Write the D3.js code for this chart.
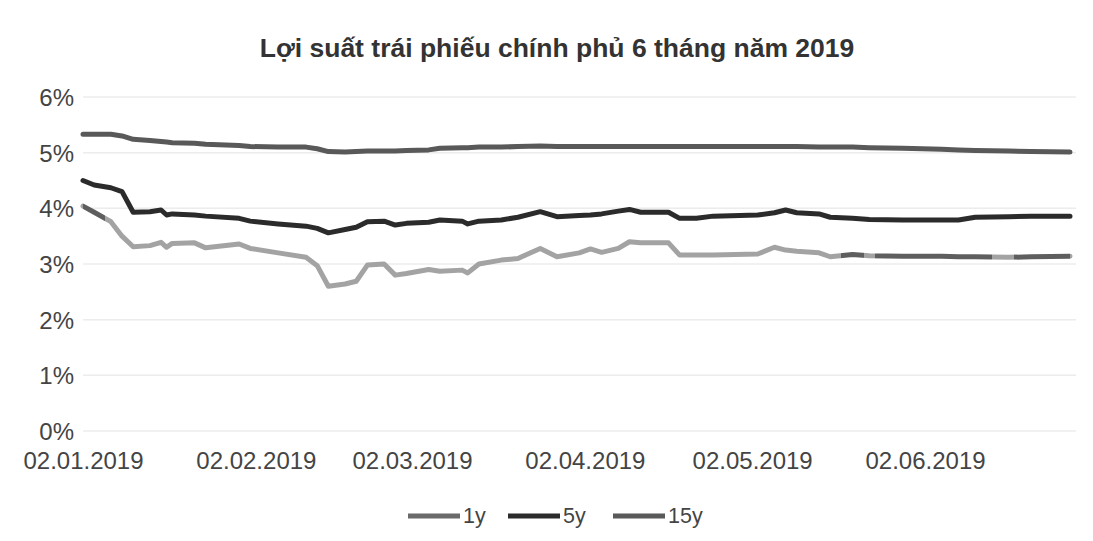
<!DOCTYPE html>
<html>
<head>
<meta charset="utf-8">
<script src="https://cdn.jsdelivr.net/npm/d3@7/dist/d3.min.js"></script>
<style>
  html, body { margin: 0; padding: 0; background: #ffffff; }
  svg { display: block; font-family: "Liberation Sans", Arial, sans-serif; }
</style>
</head>
<body>
<svg id="chart" width="1093" height="541"></svg>
<script>
// ---- data ----
const title = "Lợi suất trái phiếu chính phủ 6 tháng năm 2019";
const dates = ["2019-01-02","2019-01-04","2019-01-07","2019-01-09","2019-01-11","2019-01-14","2019-01-16","2019-01-17","2019-01-18","2019-01-22","2019-01-24","2019-01-30",
  "2019-02-01","2019-02-06","2019-02-11","2019-02-13","2019-02-15","2019-02-18","2019-02-20","2019-02-22","2019-02-25","2019-02-27",
  "2019-03-01","2019-03-05","2019-03-07","2019-03-11","2019-03-12","2019-03-14","2019-03-18","2019-03-21","2019-03-25","2019-03-28",
  "2019-04-01","2019-04-03","2019-04-05","2019-04-08","2019-04-10","2019-04-12","2019-04-17","2019-04-19","2019-04-22","2019-04-25",
  "2019-05-03","2019-05-06","2019-05-08","2019-05-10","2019-05-14","2019-05-16","2019-05-20","2019-05-23","2019-05-29",
  "2019-06-05","2019-06-08","2019-06-11","2019-06-17","2019-06-21","2019-06-28"];
const y1 = [4.04,3.93,3.76,3.50,3.31,3.33,3.39,3.30,3.37,3.38,3.29,3.36,
  3.28,3.20,3.12,2.97,2.60,2.64,2.69,2.98,3.00,2.80,
  2.83,2.90,2.87,2.89,2.84,3.00,3.07,3.10,3.28,3.13,
  3.20,3.27,3.21,3.28,3.40,3.38,3.38,3.16,3.16,3.16,
  3.18,3.30,3.25,3.23,3.20,3.13,3.17,3.15,3.14,
  3.14,3.13,3.13,3.12,3.13,3.14];
const y5 = [4.50,4.42,4.37,4.30,3.93,3.94,3.97,3.88,3.90,3.88,3.86,3.82,
  3.77,3.72,3.68,3.64,3.56,3.62,3.66,3.76,3.77,3.70,
  3.73,3.75,3.79,3.77,3.72,3.77,3.79,3.84,3.94,3.85,
  3.87,3.88,3.90,3.95,3.98,3.93,3.93,3.82,3.82,3.86,
  3.88,3.92,3.97,3.92,3.90,3.84,3.82,3.80,3.79,
  3.79,3.79,3.84,3.85,3.86,3.86];
const y15 = [5.33,5.33,5.33,5.30,5.24,5.22,5.20,5.19,5.18,5.17,5.15,5.13,
  5.11,5.10,5.10,5.07,5.02,5.01,5.02,5.03,5.03,5.03,
  5.04,5.05,5.08,5.09,5.09,5.10,5.10,5.11,5.12,5.11,
  5.11,5.11,5.11,5.11,5.11,5.11,5.11,5.11,5.11,5.11,
  5.11,5.11,5.11,5.11,5.10,5.10,5.10,5.09,5.08,
  5.06,5.05,5.04,5.03,5.02,5.01];
const seriesNames = ["1y", "5y", "15y"];
const xTickLabels = ["02.01.2019","02.02.2019","02.03.2019","02.04.2019","02.05.2019","02.06.2019"];
const yTicks = [0, 1, 2, 3, 4, 5, 6];

// ---- setup ----
const svg = d3.select("#chart");
const parseISO = d3.timeParse("%Y-%m-%d");
const parseTick = d3.timeParse("%d.%m.%Y");
const fmtTick = d3.timeFormat("%d.%m.%Y");
const dateObjs = dates.map(parseISO);

const plotLeft = 83, plotRight = 1070, plotTop = 97, plotBottom = 431;
const x = d3.scaleTime().domain([dateObjs[0], dateObjs[dateObjs.length - 1]]).range([plotLeft, plotRight]);
const y = d3.scaleLinear().domain([0, 6]).range([plotBottom, plotTop]);

const colors = { "1y": "#a3a3a3", "5y": "#2b2b2b", "15y": "#595959" };
const scanDark = "#5e5e5e";

// gradient reproducing the darker printed stretches of the 1y line
const defs = svg.append("defs");
const grad = defs.append("linearGradient")
  .attr("id", "g1y").attr("gradientUnits", "userSpaceOnUse")
  .attr("x1", plotLeft).attr("x2", plotRight).attr("y1", 0).attr("y2", 0);
const darkRanges = [["2019-01-02","2019-01-06"],["2019-05-18","2019-05-22"],["2019-05-24","2019-06-14"],["2019-06-18","2019-06-28"]];
const span = plotRight - plotLeft;
const stops = [];
darkRanges.forEach(r => {
  const a = (x(parseISO(r[0])) - plotLeft) / span, b = (x(parseISO(r[1])) - plotLeft) / span;
  stops.push([a, colors["1y"]], [a, scanDark], [b, scanDark], [b, colors["1y"]]);
});
stops.forEach(s => grad.append("stop").attr("offset", Math.max(0, Math.min(1, s[0]))).attr("stop-color", s[1]));

// title
svg.append("text")
  .attr("x", 557).attr("y", 57)
  .attr("text-anchor", "middle")
  .attr("font-size", 26.5).attr("font-weight", "bold")
  .attr("fill", "#333")
  .text(title);

// gridlines
svg.append("g")
  .selectAll("line").data(yTicks).join("line")
  .attr("x1", plotLeft).attr("x2", 1076)
  .attr("y1", d => y(d)).attr("y2", d => y(d))
  .attr("stroke", "#ececec").attr("stroke-width", 1.5);

// y axis
const yAxis = d3.axisLeft(y).tickValues(yTicks).tickFormat(d => d + "%").tickSize(0).tickPadding(0);
const gy = svg.append("g").attr("transform", `translate(74,0)`).call(yAxis);
gy.select(".domain").remove();
gy.selectAll("text").attr("font-size", 24).attr("fill", "#444").attr("font-family", "Liberation Sans, Arial, sans-serif").attr("dy", "0.35em");

// x axis
const xAxis = d3.axisBottom(x).tickValues(xTickLabels.map(parseTick)).tickFormat(fmtTick).tickSize(0).tickPadding(0);
const gx = svg.append("g").attr("transform", `translate(0,452)`).call(xAxis);
gx.select(".domain").remove();
gx.selectAll("text").attr("font-size", 24).attr("fill", "#444").attr("font-family", "Liberation Sans, Arial, sans-serif").attr("dy", "0.72em");

// lines
const seriesData = { "1y": y1, "5y": y5, "15y": y15 };
const line = d3.line().x((d, i) => x(dateObjs[i])).y(d => y(d)).curve(d3.curveLinear);
seriesNames.forEach(name => {
  svg.append("path")
    .datum(seriesData[name])
    .attr("d", line)
    .attr("fill", "none")
    .attr("stroke", name === "1y" ? "url(#g1y)" : colors[name])
    .attr("stroke-width", 5)
    .attr("stroke-linejoin", "round")
    .attr("stroke-linecap", "round");
});

// legend
const legendItems = [
  { name: "1y", x: 408, color: "#6a6a6a" },
  { name: "5y", x: 508, color: colors["5y"] },
  { name: "15y", x: 613, color: colors["15y"] }
];
const lg = svg.append("g");
legendItems.forEach(it => {
  lg.append("line")
    .attr("x1", it.x).attr("x2", it.x + 52)
    .attr("y1", 516).attr("y2", 516)
    .attr("stroke", it.color).attr("stroke-width", 5);
  lg.append("text")
    .attr("x", it.x + 55).attr("y", 523)
    .attr("font-size", 21.5).attr("fill", "#444")
    .text(it.name);
});
</script>
</body>
</html>
